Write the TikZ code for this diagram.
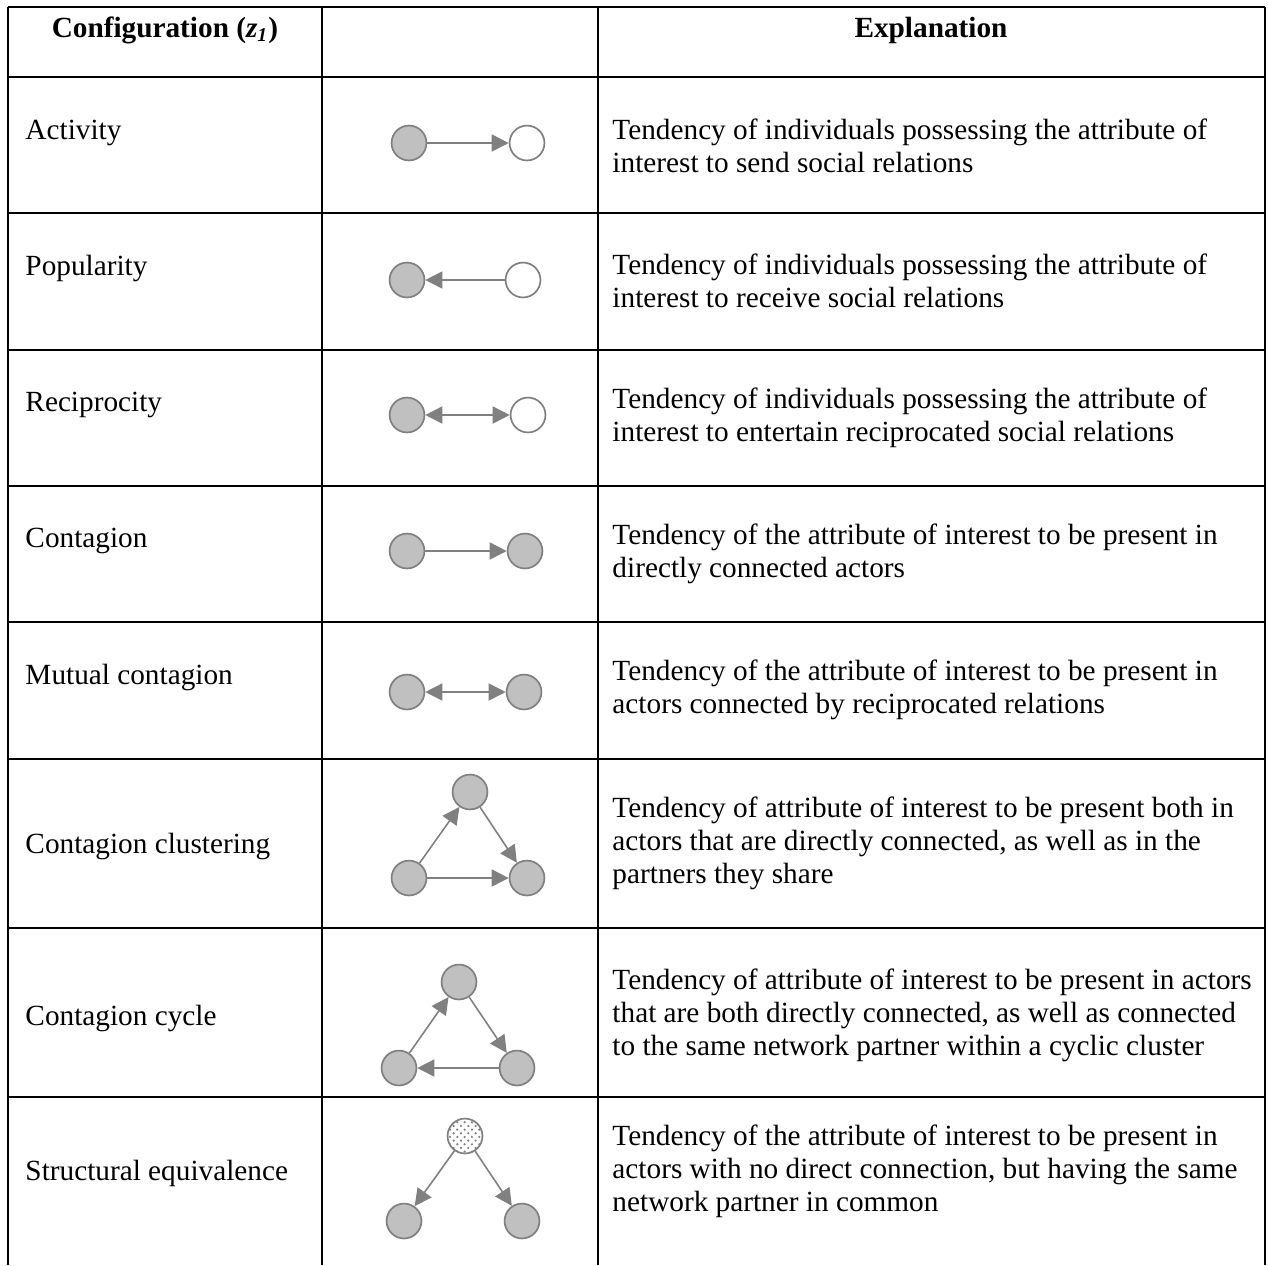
\documentclass[tikz,border=0pt]{standalone}
\usepackage{fontspec}
\setmainfont{Liberation Serif}
\usetikzlibrary{positioning,arrows.meta,patterns}
\definecolor{nodegray}{HTML}{C0C0C0}
\definecolor{linegray}{HTML}{808080}

\begin{document}
\begin{tikzpicture}
[x=0.41pt, y=-0.41pt,
 >={Triangle[length=7pt,width=7pt]},
 txt/.style={font=\fontsize{12}{13.5}\selectfont, inner sep=0pt, anchor=west, align=left},
 head/.style={font=\fontsize{12}{13.5}\selectfont\bfseries, inner sep=0pt},
 actor/.style={circle, minimum size=14.3pt, inner sep=0pt, line width=0.7pt, draw=linegray},
 ego/.style={actor, fill=nodegray},
 alter/.style={actor, fill=white},
 partner/.style={actor, pattern=crosshatch dots, pattern color=linegray, preaction={fill=white}},
 tie/.style={draw=linegray, line width=0.65pt, ->},
 mutual/.style={tie, <->},
 rule/.style={line width=1.1pt}]
\useasboundingbox (0,0) rectangle (1268,1265);

% table lines
\foreach \y in {7,77,213,350,486,622,759,928,1097}
  \draw[rule] (8,\y) -- (1265,\y);
\foreach \x in {8,322,598,1265}
  \draw[rule] (\x,7) -- (\x,1265);

% header
\node[head] (hconf) at (165,30) {Configuration (\textit{z\textsubscript{1}})};
\node[head] (hexpl) at (931,30) {Explanation};

% first column
\node[txt] (lact) at (25,133) {Activity};
\node[txt] (lpop) at (25,268) {Popularity};
\node[txt] (lrec) at (25,405) {Reciprocity};
\node[txt] (lcon) at (25,541) {Contagion};
\node[txt] (lmut) at (25,677) {Mutual contagion};
\node[txt] (lclu) at (25,846) {Contagion clustering};
\node[txt] (lcyc) at (25,1018) {Contagion cycle};
\node[txt] (lstr) at (25,1173) {Structural equivalence};

% explanations
\node[txt] (eact) at (612,146) {Tendency of individuals possessing the attribute of\\interest to send social relations};
\node[txt] (epop) at (612,281) {Tendency of individuals possessing the attribute of\\interest to receive social relations};
\node[txt] (erec) at (612,418) {Tendency of individuals possessing the attribute of\\interest to entertain reciprocated social relations};
\node[txt] (econ) at (612,554) {Tendency of the attribute of interest to be present in\\directly connected actors};
\node[txt] (emut) at (612,690) {Tendency of the attribute of interest to be present in\\actors connected by reciprocated relations};
\node[txt] (eclu) at (612,843) {Tendency of attribute of interest to be present both in\\actors that are directly connected, as well as in the\\partners they share};
\node[txt] (ecyc) at (612,1015) {Tendency of attribute of interest to be present in actors\\that are both directly connected, as well as connected\\to the same network partner within a cyclic cluster};
\node[txt] (estr) at (612,1171) {Tendency of the attribute of interest to be present in\\actors with no direct connection, but having the same\\network partner in common};

% activity
\node[ego] (act1) at (409,143) {};
\node[alter] (act2) at (527,143) {};
\draw[tie] (act1) -- (act2);

% popularity
\node[ego] (pop1) at (407,280) {};
\node[alter] (pop2) at (523,280) {};
\draw[tie] (pop2) -- (pop1);

% reciprocity
\node[ego] (rec1) at (407,415) {};
\node[alter] (rec2) at (528,415) {};
\draw[mutual] (rec1) -- (rec2);

% contagion
\node[ego] (con1) at (407,551) {};
\node[ego] (con2) at (525,551) {};
\draw[tie] (con1) -- (con2);

% mutual contagion
\node[ego] (mut1) at (407,692) {};
\node[ego] (mut2) at (524,692) {};
\draw[mutual] (mut1) -- (mut2);

% contagion clustering
\node[ego] (clut) at (470,792) {};
\node[ego] (clul) at (409,878) {};
\node[ego] (clur) at (527,878) {};
\draw[tie] (clul) -- (clut);
\draw[tie] (clut) -- (clur);
\draw[tie] (clul) -- (clur);

% contagion cycle
\node[ego] (cyct) at (459,982) {};
\node[ego] (cycl) at (399,1068) {};
\node[ego] (cycr) at (517,1068) {};
\draw[tie] (cycl) -- (cyct);
\draw[tie] (cyct) -- (cycr);
\draw[tie] (cycr) -- (cycl);

% structural equivalence
\node[partner] (strt) at (465,1136) {};
\node[ego] (strl) at (404,1221) {};
\node[ego] (strr) at (522,1221) {};
\draw[tie] (strt) -- (strl);
\draw[tie] (strt) -- (strr);
\end{tikzpicture}
\end{document}
